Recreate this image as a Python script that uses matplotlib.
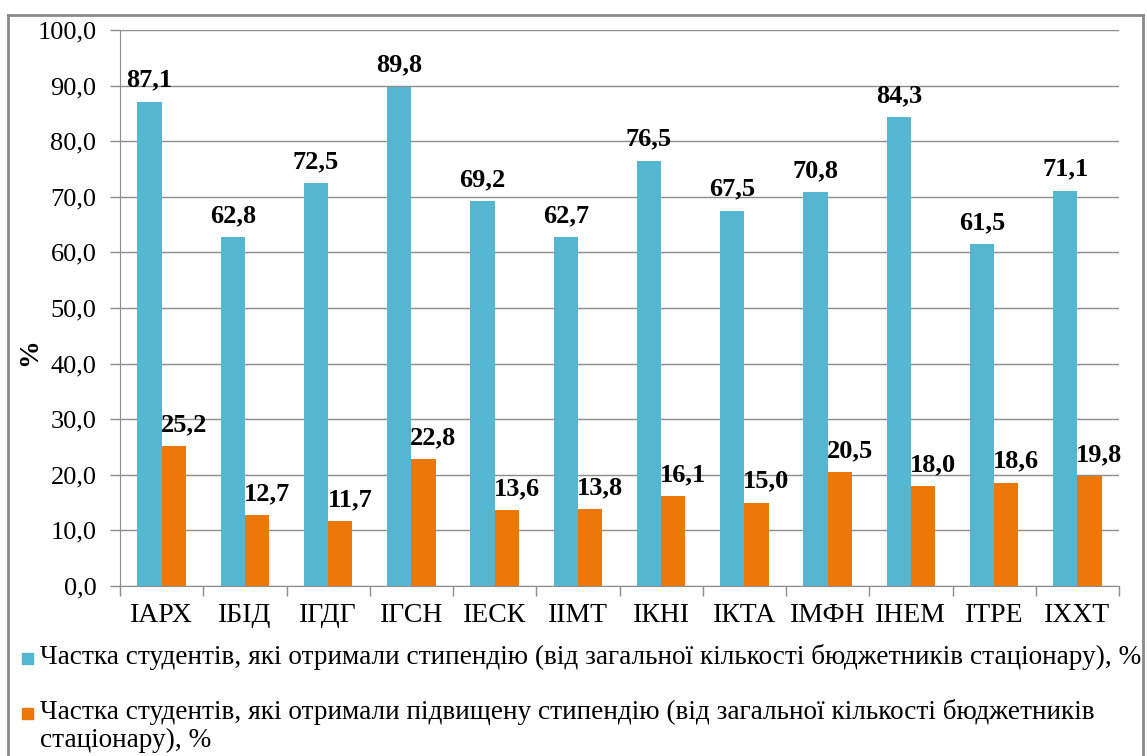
import matplotlib
matplotlib.use("Agg")
import matplotlib.pyplot as plt
from matplotlib.patches import Rectangle
from matplotlib.lines import Line2D
import numpy as np

categories = ["ІАРХ", "ІБІД", "ІГДГ", "ІГСН", "ІЕСК", "ІІМТ", "ІКНІ", "ІКТА", "ІМФН", "ІНЕМ", "ІТРЕ", "ІХХТ"]
share_stipend = [87.1, 62.8, 72.5, 89.8, 69.2, 62.7, 76.5, 67.5, 70.8, 84.3, 61.5, 71.1]
share_increased = [25.2, 12.7, 11.7, 22.8, 13.6, 13.8, 16.1, 15.0, 20.5, 18.0, 18.6, 19.8]
yticks = [0, 10, 20, 30, 40, 50, 60, 70, 80, 90, 100]
legend_labels = [
    "Частка студентів, які отримали стипендію (від загальної кількості бюджетників стаціонару), %",
    "Частка студентів, які отримали підвищену стипендію (від загальної кількості бюджетників\nстаціонару), %",
]
ylabel = "%"

BLUE = "#55B6D2"
ORANGE = "#EB7808"
FONT = "Liberation Serif"

plt.rcParams['font.family'] = [FONT, 'DejaVu Serif']

W, H = 1147, 756
fig = plt.figure(figsize=(W / 100, H / 100), dpi=100)
fig.patch.set_facecolor("white")

# axes placement in pixels
left, right, top, bottom = 120, 1119, 30, 586
ax = fig.add_axes([left / W, 1 - bottom / H, (right - left) / W, (bottom - top) / H])

x = np.arange(len(categories))
bw = 0.29
b1 = ax.bar(x - bw / 2, share_stipend, bw, color=BLUE, zorder=3)
b2 = ax.bar(x + bw / 2, share_increased, bw, color=ORANGE, zorder=3)

for rect, v in zip(b1, share_stipend):
    ax.annotate(f"{v:.1f}".replace(".", ","), (rect.get_x() + rect.get_width() / 2, v),
                xytext=(0, 15), textcoords="offset pixels", ha="center", va="baseline",
                fontsize=19, fontweight="bold", color="black", zorder=5)
for rect, v in zip(b2, share_increased):
    ax.annotate(f"{v:.1f}".replace(".", ","), (rect.get_x() + rect.get_width() / 2, v),
                xytext=(10, 15), textcoords="offset pixels", ha="center", va="baseline",
                fontsize=19, fontweight="bold", color="black", zorder=5)

ax.set_xlim(-0.5, len(categories) - 0.5)
ax.set_ylim(0, 100)
ax.set_yticks(yticks)
ax.set_yticklabels([f"{t:.1f}".replace(".", ",") for t in yticks], fontsize=19)
ax.set_xticks(x)
ax.set_xticklabels(categories, fontsize=20)
ax.tick_params(axis="x", length=0, pad=12)
ax.tick_params(axis="y", length=7, width=1, color="#8C8C8C", pad=10)
ax.set_xticks(np.arange(-0.5, len(categories) + 0.5, 1), minor=True)
ax.tick_params(axis="x", which="minor", length=7, width=1, color="#8C8C8C")

ax.grid(axis="y", color="#8C8C8C", linewidth=1, zorder=0)
for s in ["top", "right"]:
    ax.spines[s].set_visible(False)
ax.spines["left"].set_color("#8C8C8C")
ax.spines["bottom"].set_color("#8C8C8C")
ax.set_ylabel(ylabel, fontsize=20, fontweight="bold")
ax.yaxis.set_label_coords(-0.078, 0.42)

# figure frame (top, left, right)
fx0, fx1, fy0 = 8 / W, 1143 / W, 1 - 15 / H
for xs, ys in [([fx0, fx1], [fy0, fy0]), ([fx0, fx0], [fy0, 0]), ([fx1, fx1], [fy0, 0])]:
    fig.add_artist(Line2D(xs, ys, color="#8A8A8A", linewidth=2, transform=fig.transFigure))

# legend (manual, to match layout)
sq = 11
for (col, ycen, lab) in [(BLUE, 658, legend_labels[0]), (ORANGE, 713, legend_labels[1])]:
    fig.add_artist(Rectangle((22 / W, 1 - (ycen + sq / 2) / H), sq / W, sq / H,
                             color=col, transform=fig.transFigure))
    fig.text(40 / W, 1 - (ycen - 14) / H, lab, fontsize=19.6, va="top", ha="left",
             linespacing=1.15)

fig.savefig("out.png", dpi=100)
